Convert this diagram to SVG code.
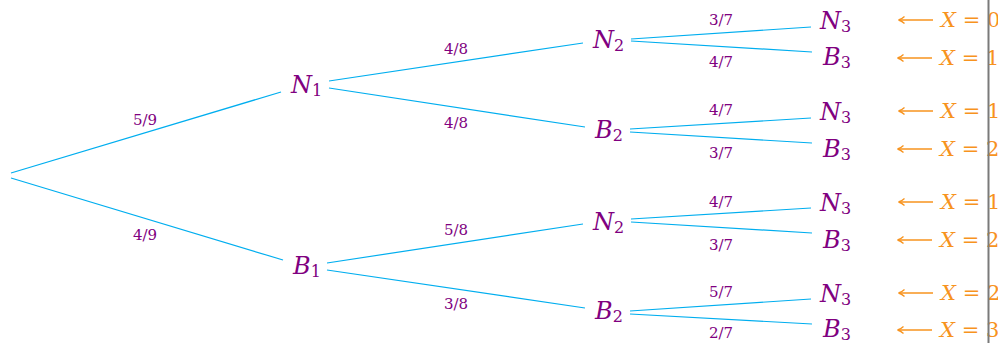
<svg xmlns="http://www.w3.org/2000/svg" width="998" height="343" viewBox="0 0 998 343">
<style>
.n{font-family:"DejaVu Serif",serif;font-size:24px;font-style:italic;fill:#800080}
.n tspan{font-size:16px;font-style:normal}
.p{font-family:"DejaVu Serif",serif;font-size:15px;fill:#800080;text-anchor:middle}
.x{font-family:"DejaVu Serif",serif;font-size:21px;fill:#f7931e}
.x tspan.i{font-style:italic}
.e{stroke:#00aeef;stroke-width:1.2;fill:none}
.a{stroke:#f7931e;stroke-width:1.5;fill:none}
</style>
<defs>
<marker id="ah" markerWidth="10" markerHeight="10" refX="7.5" refY="5" orient="auto" markerUnits="userSpaceOnUse">
<path d="M2,1.5 Q5,4.3 8,5 Q5,5.7 2,8.5" stroke="#f7931e" stroke-width="1.3" fill="none"/>
</marker>
</defs>
<g id="connectors">
<line class="e" x1="11" y1="173" x2="281" y2="92"/>
<line class="e" x1="11" y1="178" x2="283" y2="260"/>
<line class="e" x1="329" y1="81" x2="583" y2="43"/>
<line class="e" x1="329" y1="88" x2="585" y2="127"/>
<line class="e" x1="327" y1="263" x2="583" y2="224"/>
<line class="e" x1="327" y1="270" x2="585" y2="308"/>
<line class="e" x1="631" y1="39" x2="811" y2="27"/>
<line class="e" x1="631" y1="41" x2="812" y2="52"/>
<line class="e" x1="630" y1="129" x2="811" y2="118"/>
<line class="e" x1="630" y1="132" x2="812" y2="143"/>
<line class="e" x1="631" y1="219" x2="811" y2="208"/>
<line class="e" x1="631" y1="222" x2="812" y2="233"/>
<line class="e" x1="630" y1="311" x2="811" y2="299"/>
<line class="e" x1="630" y1="314" x2="812" y2="324"/>
</g>
<g id="edge-labels">
<text class="p" x="145" y="125">5/9</text>
<text class="p" x="145" y="240">4/9</text>
<text class="p" x="456" y="54">4/8</text>
<text class="p" x="456" y="128">4/8</text>
<text class="p" x="456" y="235">5/8</text>
<text class="p" x="456" y="309">3/8</text>
<text class="p" x="721" y="25">3/7</text>
<text class="p" x="721" y="67">4/7</text>
<text class="p" x="721" y="115">4/7</text>
<text class="p" x="721" y="158">3/7</text>
<text class="p" x="721" y="207">4/7</text>
<text class="p" x="721" y="250">3/7</text>
<text class="p" x="721" y="297">5/7</text>
<text class="p" x="721" y="338">2/7</text>
</g>
<g id="N1"><text class="n" x="291" y="93">N<tspan dy="3">1</tspan></text></g>
<g id="B1"><text class="n" x="293" y="274">B<tspan dy="3">1</tspan></text></g>
<g id="N2a"><text class="n" x="593" y="48">N<tspan dy="3">2</tspan></text></g>
<g id="B2a"><text class="n" x="595" y="138">B<tspan dy="3">2</tspan></text></g>
<g id="N2b"><text class="n" x="593" y="230">N<tspan dy="3">2</tspan></text></g>
<g id="B2b"><text class="n" x="595" y="319">B<tspan dy="3">2</tspan></text></g>
<g id="N3a"><text class="n" x="820" y="29">N<tspan dy="3">3</tspan></text></g>
<g id="B3a"><text class="n" x="823" y="65">B<tspan dy="3">3</tspan></text></g>
<g id="N3b"><text class="n" x="820" y="120">N<tspan dy="3">3</tspan></text></g>
<g id="B3b"><text class="n" x="823" y="157">B<tspan dy="3">3</tspan></text></g>
<g id="N3c"><text class="n" x="820" y="211">N<tspan dy="3">3</tspan></text></g>
<g id="B3c"><text class="n" x="823" y="248">B<tspan dy="3">3</tspan></text></g>
<g id="N3d"><text class="n" x="820" y="302">N<tspan dy="3">3</tspan></text></g>
<g id="B3d"><text class="n" x="823" y="337">B<tspan dy="3">3</tspan></text></g>
<g id="outcomes">
<line class="a" x1="933" y1="20" x2="899" y2="20" marker-end="url(#ah)"/>
<line class="a" x1="932" y1="58" x2="898" y2="58" marker-end="url(#ah)"/>
<line class="a" x1="933" y1="111" x2="899" y2="111" marker-end="url(#ah)"/>
<line class="a" x1="932" y1="149" x2="898" y2="149" marker-end="url(#ah)"/>
<line class="a" x1="933" y1="202" x2="899" y2="202" marker-end="url(#ah)"/>
<line class="a" x1="932" y1="240" x2="898" y2="240" marker-end="url(#ah)"/>
<line class="a" x1="933" y1="293" x2="899" y2="293" marker-end="url(#ah)"/>
<line class="a" x1="932" y1="330" x2="898" y2="330" marker-end="url(#ah)"/>
<text class="x" x="941" y="27"><tspan class="i">X</tspan> = 0</text>
<text class="x" x="940" y="65"><tspan class="i">X</tspan> = 1</text>
<text class="x" x="941" y="118"><tspan class="i">X</tspan> = 1</text>
<text class="x" x="940" y="156"><tspan class="i">X</tspan> = 2</text>
<text class="x" x="941" y="209"><tspan class="i">X</tspan> = 1</text>
<text class="x" x="940" y="247"><tspan class="i">X</tspan> = 2</text>
<text class="x" x="941" y="300"><tspan class="i">X</tspan> = 2</text>
<text class="x" x="940" y="337"><tspan class="i">X</tspan> = 3</text>
</g>
<line x1="988.5" y1="0" x2="988.5" y2="343" stroke="#7a7a7a" stroke-width="2"/>
</svg>
